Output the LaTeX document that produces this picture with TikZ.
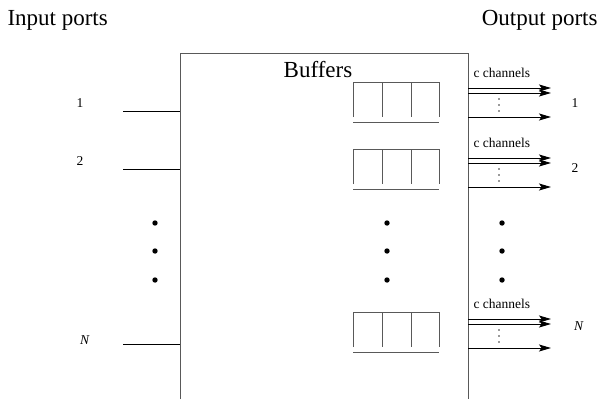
\documentclass[tikz,border=0pt]{standalone}
\usepackage{fontspec}
\setmainfont{Liberation Serif}
\usetikzlibrary{arrows.meta}

\begin{document}
\begin{tikzpicture}[>={Stealth[length=12pt,width=7pt,inset=2.5pt]},x=1pt,y=-1pt,line width=1pt,
    big/.style={font=\fontsize{23}{26}\selectfont,inner sep=0pt},
    small/.style={font=\fontsize{13.5}{15}\selectfont,inner sep=0pt},
    frame/.style={draw=black!65}]
\useasboundingbox (0,0) rectangle (601,399);
% switch box, open at the bottom
\coordinate (bl) at (180,399);
\coordinate (tl) at (180,53);
\coordinate (tr) at (468,53);
\coordinate (br) at (468,399);
\draw[frame] (bl) -- (tl) -- (tr) -- (br);
\node[big,anchor=base west] (inports) at (7,25) {Input ports};
\node[big,anchor=base east] (outports) at (598,25) {Output ports};
\node[big,anchor=base] (buffers) at (318,77) {Buffers};
% input ports
\foreach \i/\y/\lx/\ly/\t in {1/111/80/103/1,2/169/80/161/2,3/344/85/340/\textit{N}} {
    \coordinate (in\i) at (123,\y);
    \coordinate (sw\i) at (180,\y);
    \draw (in\i) -- (sw\i);
    \node[small] (inlab\i) at (\lx,\ly) {\t};
}
% buffers
\foreach \i/\y in {1/82,2/149,3/312} {
    \draw[frame] (353,\y+35) -- (353,\y) -- (439,\y) -- (439,\y+35);
    \draw[frame] (382,\y) -- (382,\y+35);
    \draw[frame] (411,\y) -- (411,\y+35);
    \draw[frame] (353,\y+40) -- (439,\y+40);
}
% output channels
\foreach \i/\y/\lx/\ly/\t in {1/88/575/103/1,2/158/575/168/2,3/319/579/326/\textit{N}} {
    \node[small,anchor=base west] (cc\i) at (473,\y-11) {c channels};
    \coordinate (a\i) at (468,\y);   \coordinate (b\i) at (551,\y);
    \coordinate (c\i) at (468,\y+5); \coordinate (d\i) at (551,\y+5);
    \coordinate (e\i) at (468,\y+29);\coordinate (f\i) at (551,\y+29);
    \draw[->] (a\i) -- (b\i);
    \draw[->] (c\i) -- (d\i);
    \draw[->] (e\i) -- (f\i);
    \foreach \k in {11,17,23}
        \fill[black!80] (499,\y+\k) circle (0.8);
    \node[small] (outlab\i) at (\lx,\ly) {\t};
}
% dots
\foreach \x in {155,387,502}
    \foreach \y in {223,251,280}
        \fill (\x,\y) circle (2.7);
\end{tikzpicture}
\end{document}
